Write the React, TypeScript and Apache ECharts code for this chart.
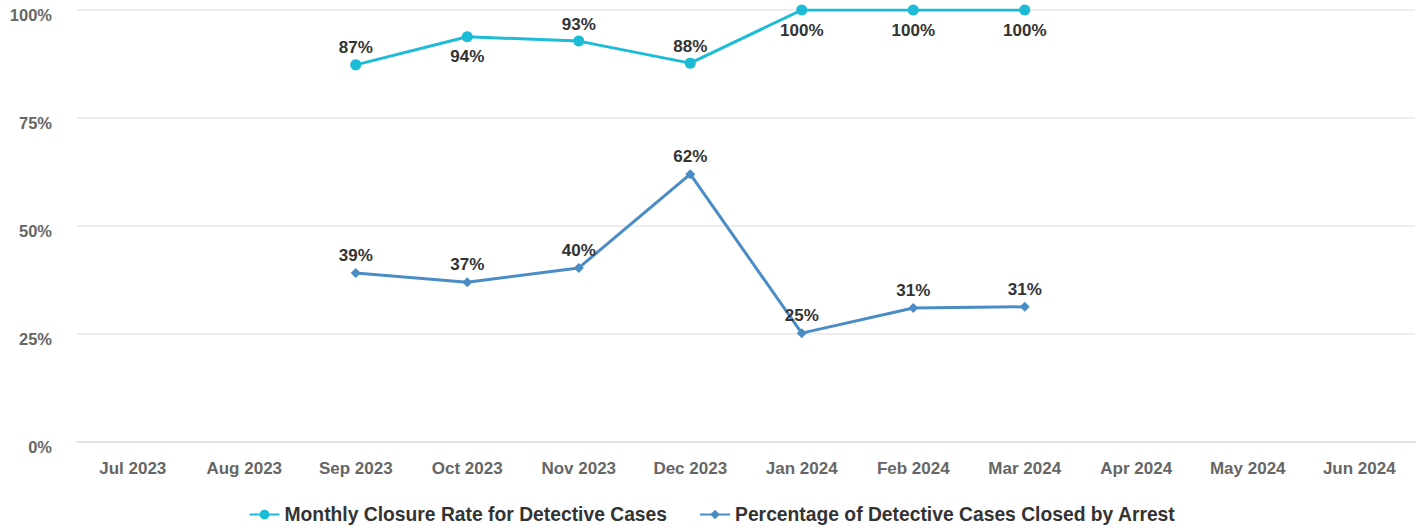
import React, { useEffect, useRef } from "react";
import * as echarts from "echarts";

const categories = [
  "Jul 2023", "Aug 2023", "Sep 2023", "Oct 2023", "Nov 2023", "Dec 2023",
  "Jan 2024", "Feb 2024", "Mar 2024", "Apr 2024", "May 2024", "Jun 2024",
];
const closureRate: (number | null)[] = [null, null, 87.3, 93.8, 92.8, 87.7, 100, 100, 100, null, null, null];
const closureLabelPos = ["top", "top", "top", "bottom", "top", "top", "bottom", "bottom", "bottom", "top", "top", "top"];
const arrestRate: (number | null)[] = [null, null, 39.1, 37.0, 40.3, 62.0, 25.2, 31.0, 31.3, null, null, null];
const yTicks = [0, 25, 50, 75, 100];

const seriesNames = [
  "Monthly Closure Rate for Detective Cases",
  "Percentage of Detective Cases Closed by Arrest",
];

export default function App() {
  const ref = useRef<HTMLDivElement>(null);
  useEffect(() => {
    if (!ref.current) return;
    const chart = echarts.init(ref.current, undefined, { renderer: "svg" });
    const labelStyle = {
      show: true,
      fontFamily: "Arial, 'Liberation Sans', sans-serif",
      fontWeight: "bold" as const,
      fontSize: 17,
      color: "#333",
      formatter: (p: any) => Math.round(p.value) + "%",
    };
    chart.setOption({
      animation: false,
      backgroundColor: "#fff",
      grid: { left: 77, right: 9, top: 10, bottom: 85, containLabel: false },
      legend: {
        bottom: -2,
        itemWidth: 30,
        itemHeight: 12,
        itemGap: 32,
        textStyle: {
          fontFamily: "Arial, 'Liberation Sans', sans-serif",
          fontWeight: "bold",
          fontSize: 19.3,
          color: "#333",
        },
        data: seriesNames,
      },
      xAxis: {
        type: "category",
        data: categories,
        boundaryGap: true,
        axisLine: { show: true, lineStyle: { color: "#dfe3f0", width: 2 } },
        axisTick: { show: false },
        axisLabel: {
          margin: 18,
          fontFamily: "Arial, 'Liberation Sans', sans-serif",
          fontWeight: "bold",
          fontSize: 17,
          color: "#666",
        },
      },
      yAxis: {
        type: "value",
        min: yTicks[0],
        max: yTicks[yTicks.length - 1],
        interval: 25,
        axisLine: { show: false },
        axisTick: { show: false },
        splitLine: { lineStyle: { color: "#eeeeee", width: 2 } },
        axisLabel: {
          margin: 25,
          verticalAlign: "top",
          lineHeight: 10,
          fontFamily: "Arial, 'Liberation Sans', sans-serif",
          fontWeight: "bold",
          fontSize: 16.5,
          color: "#666",
          formatter: (v: number) => v + "%",
        },
      },
      series: [
        {
          name: seriesNames[0],
          type: "line",
          data: closureRate.map((v, i) => ({
            value: v,
            label: {
              position: closureLabelPos[i],
              distance: closureLabelPos[i] === "top" ? 3 : 6,
            },
          })),
          color: "#1cbcd6",
          symbol: "circle",
          symbolSize: 11,
          lineStyle: { width: 3, color: "#1cbcd6" },
          itemStyle: { color: "#1cbcd6" },
          label: labelStyle,
          connectNulls: false,
        },
        {
          name: seriesNames[1],
          type: "line",
          data: arrestRate,
          color: "#4a8cc6",
          symbol: "diamond",
          symbolSize: 10,
          lineStyle: { width: 3, color: "#4a8cc6" },
          itemStyle: { color: "#4a8cc6" },
          label: { ...labelStyle, position: "top", distance: 4 },
          connectNulls: false,
        },
      ],
    });
    return () => chart.dispose();
  }, []);
  return (
    <div
      ref={ref}
      style={{ position: "fixed", left: 0, top: 0, width: 1424, height: 527 }}
    />
  );
}
